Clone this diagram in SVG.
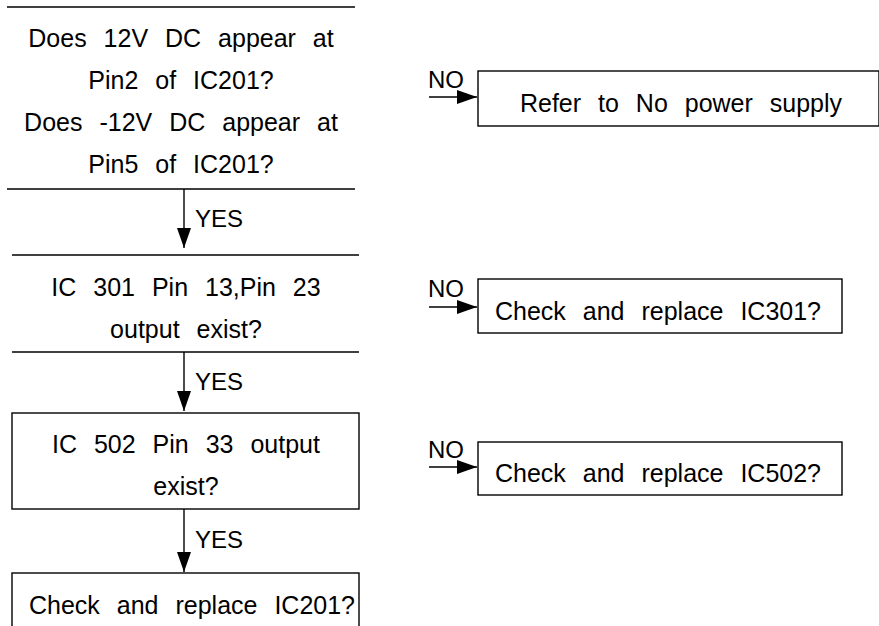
<svg xmlns="http://www.w3.org/2000/svg" width="879" height="626" viewBox="0 0 879 626">
<style>
  text { font-family: "Liberation Sans", Arial, sans-serif; fill: #000; }
  .t { font-size: 25px; word-spacing: 10px; text-anchor: middle; }
  .lbl { font-size: 24px; }
  .ln { stroke: #000; stroke-width: 1.4; fill: none; }
  .box { stroke: #000; stroke-width: 1.4; fill: #fff; }
</style>
<defs>
  <marker id="ah" markerUnits="userSpaceOnUse" markerWidth="20" markerHeight="14" refX="20" refY="7" orient="auto">
    <path d="M0,0 L20,7 L0,14 Z" fill="#000"/>
  </marker>
</defs>
<rect width="879" height="626" fill="#fff"/>

<g id="node-q1">
  <line class="ln" x1="7" y1="7" x2="355" y2="7"/>
  <line class="ln" x1="7" y1="189" x2="355" y2="189"/>
  <text class="t" x="181" y="47">Does 12V DC appear at</text>
  <text class="t" x="181" y="89">Pin2 of IC201?</text>
  <text class="t" x="181" y="131">Does -12V DC appear at</text>
  <text class="t" x="181" y="173">Pin5 of IC201?</text>
</g>

<g id="node-q2">
  <line class="ln" x1="12" y1="255" x2="359" y2="255"/>
  <line class="ln" x1="12" y1="352" x2="359" y2="352"/>
  <text class="t" x="186" y="296">IC 301 Pin 13,Pin 23</text>
  <text class="t" x="186" y="338">output exist?</text>
</g>

<g id="node-q3">
  <rect class="box" x="12" y="413" width="347" height="96"/>
  <text class="t" x="186" y="453">IC 502 Pin 33 output</text>
  <text class="t" x="186" y="495">exist?</text>
</g>

<g id="node-r4">
  <rect class="box" x="12" y="573" width="347" height="70"/>
  <text class="t" x="192" y="614">Check and replace IC201?</text>
</g>

<g id="node-r1">
  <rect class="box" x="478" y="71" width="401" height="55"/>
  <text class="t" x="681" y="112">Refer to No power supply</text>
</g>

<g id="node-r2">
  <rect class="box" x="478" y="279" width="364" height="54"/>
  <text class="t" x="658" y="320">Check and replace IC301?</text>
</g>

<g id="node-r3">
  <rect class="box" x="478" y="442" width="364" height="53"/>
  <text class="t" x="658" y="482">Check and replace IC502?</text>
</g>

<g id="connectors">
  <line class="ln" x1="184" y1="189" x2="184" y2="248" marker-end="url(#ah)"/>
  <text class="lbl" x="195" y="227">YES</text>
  <line class="ln" x1="184" y1="352" x2="184" y2="411" marker-end="url(#ah)"/>
  <text class="lbl" x="195" y="390">YES</text>
  <line class="ln" x1="184" y1="509" x2="184" y2="572" marker-end="url(#ah)"/>
  <text class="lbl" x="195" y="548">YES</text>

  <line class="ln" x1="429" y1="97" x2="477" y2="97" marker-end="url(#ah)"/>
  <text class="lbl" x="428" y="88">NO</text>
  <line class="ln" x1="429" y1="307" x2="477" y2="307" marker-end="url(#ah)"/>
  <text class="lbl" x="428" y="297">NO</text>
  <line class="ln" x1="429" y1="467" x2="477" y2="467" marker-end="url(#ah)"/>
  <text class="lbl" x="428" y="458">NO</text>
</g>
</svg>
